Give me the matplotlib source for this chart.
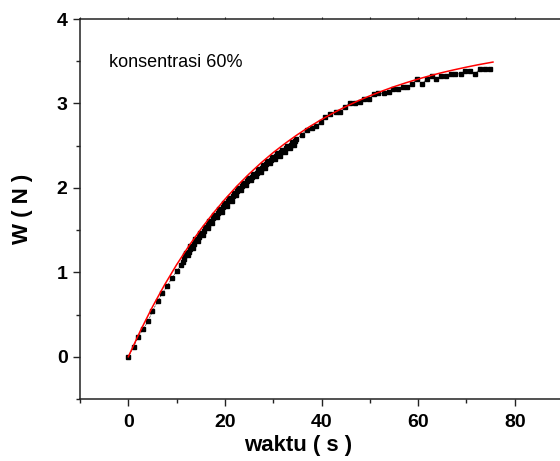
import numpy as np
import matplotlib.pyplot as plt

plt.rcParams['font.family'] = ['Liberation Sans', 'DejaVu Sans']

# measured points: W (N) against waktu (s)
t_data = [0.0, 1.1, 2.1, 3.1, 4.1, 5.0, 6.1, 7.0, 8.1, 9.0, 10.1, 11.0,
          11.4, 11.55, 11.7, 11.85, 12.4, 12.55, 12.7, 12.85,
          13.4, 13.6, 13.8, 14.4, 14.6, 14.8,
          15.4, 15.6, 15.8, 16.4, 16.6, 16.8,
          17.4, 17.6, 17.8, 18.4, 18.6, 18.8,
          19.4, 19.6, 19.8, 20.4, 20.6, 20.8,
          21.4, 21.6, 21.8, 22.4, 22.6, 22.8,
          23.4, 23.6, 23.8, 24.4, 24.6, 24.8,
          25.4, 25.6, 25.8, 26.4, 26.6, 26.8,
          27.4, 27.6, 27.8, 28.4, 28.6, 28.8,
          29.4, 29.6, 29.8, 30.4, 30.6, 30.8,
          31.4, 31.6, 31.8, 32.4, 32.6, 32.8,
          33.4, 33.6, 33.8, 34.4, 34.6, 34.8,
          35.9, 37.0, 38.0, 38.9, 39.9, 40.8, 41.8, 42.9, 43.9, 44.9,
          45.8, 46.9, 47.9, 48.9, 49.9, 50.8, 51.8, 52.9, 53.9, 54.9,
          55.9, 56.9, 57.8, 58.8, 59.8, 60.8, 61.8, 62.8, 63.8, 64.7,
          65.7, 66.8, 67.7, 68.8, 69.8, 70.8, 71.8, 72.8, 73.8, 74.8]
w_data = [0.0, 0.12, 0.24, 0.33, 0.42, 0.54, 0.66, 0.75, 0.84, 0.93, 1.02, 1.09,
          1.12, 1.16, 1.20, 1.23, 1.20, 1.24, 1.28, 1.31,
          1.29, 1.34, 1.39, 1.37, 1.42, 1.46,
          1.44, 1.49, 1.54, 1.52, 1.56, 1.61,
          1.59, 1.64, 1.68, 1.66, 1.70, 1.75,
          1.72, 1.77, 1.82, 1.79, 1.84, 1.88,
          1.85, 1.90, 1.94, 1.91, 1.96, 2.00,
          1.97, 2.02, 2.06, 2.03, 2.08, 2.12,
          2.09, 2.13, 2.17, 2.14, 2.18, 2.22,
          2.19, 2.23, 2.27, 2.24, 2.28, 2.32,
          2.29, 2.33, 2.37, 2.34, 2.38, 2.41,
          2.38, 2.42, 2.45, 2.43, 2.47, 2.50,
          2.47, 2.51, 2.54, 2.51, 2.55, 2.58,
          2.63, 2.69, 2.71, 2.73, 2.78, 2.84, 2.88, 2.90, 2.90, 2.96,
          3.00, 3.00, 3.02, 3.05, 3.05, 3.11, 3.12, 3.12, 3.14, 3.17,
          3.17, 3.20, 3.20, 3.23, 3.29, 3.23, 3.29, 3.32, 3.29, 3.32,
          3.32, 3.35, 3.35, 3.35, 3.38, 3.38, 3.35, 3.41, 3.41, 3.41]

# fitted curve
t_fit = [0, 2.5, 5, 7.5, 10, 12.5, 15, 17.5, 20, 22.5, 25, 27.5, 30, 32.5,
         35, 37.5, 40, 42.5, 45, 47.5, 50, 52.5, 55, 57.5, 60, 62.5, 65,
         67.5, 70, 72.5, 75.5]
w_fit = [0.0, 0.308, 0.591, 0.851, 1.090, 1.309, 1.510, 1.695, 1.865, 2.022,
         2.165, 2.297, 2.418, 2.528, 2.630, 2.724, 2.810, 2.889, 2.962, 3.029,
         3.090, 3.146, 3.198, 3.245, 3.289, 3.329, 3.366, 3.399, 3.430, 3.459,
         3.490]

fig = plt.figure(figsize=(5.6, 4.61), dpi=100)
ax = fig.add_axes([80/560, 62/461, 483/560, 380/461])

ax.plot(t_data, w_data, color='black', lw=0.4, ls='--', marker='s', ms=2.6,
        mec='black', mfc='black', zorder=2)
ax.plot(t_fit, w_fit, color='#ff0000', lw=1.1, zorder=3)

ax.set_xlim(-10, 90)
ax.set_ylim(-0.5, 4)
ax.set_xticks([0, 20, 40, 60, 80])
ax.set_xticks([-10, 10, 30, 50, 70], minor=True)
ax.set_yticks([0, 1, 2, 3, 4])
ax.set_yticks([-0.5, 0.5, 1.5, 2.5, 3.5], minor=True)

for s in ax.spines.values():
    s.set_color('#222222')
    s.set_linewidth(1.1)

ax.tick_params(which='major', direction='out', length=5, width=1.0,
               labelsize=14, color='#222222')
ax.tick_params(which='minor', direction='out', length=3, width=1.0,
               color='#222222')
ax.tick_params(axis='x', pad=6)
ax.tick_params(axis='y', pad=4)
for lab in ax.get_xticklabels() + ax.get_yticklabels():
    lab.set_fontweight('bold')

top = ax.secondary_xaxis('top')
top.set_xticks([-10, 0, 10, 20, 30, 40, 50, 60, 70, 80, 90])
top.tick_params(direction='out', length=1.5, width=0.8, labeltop=False,
                color='#222222')
top.spines['top'].set_visible(False)

ax.set_xlabel('waktu ( s )', fontsize=16, fontweight='bold')
ax.xaxis.set_label_coords(0.451, -0.095)
ax.set_ylabel('W ( N )', fontsize=16, fontweight='bold')
ax.yaxis.set_label_coords(-0.097, 0.5)

ax.text(0.06, 0.874, 'konsentrasi 60%', fontsize=13, transform=ax.transAxes,
        va='baseline')

fig.savefig('out.png', dpi=100)
